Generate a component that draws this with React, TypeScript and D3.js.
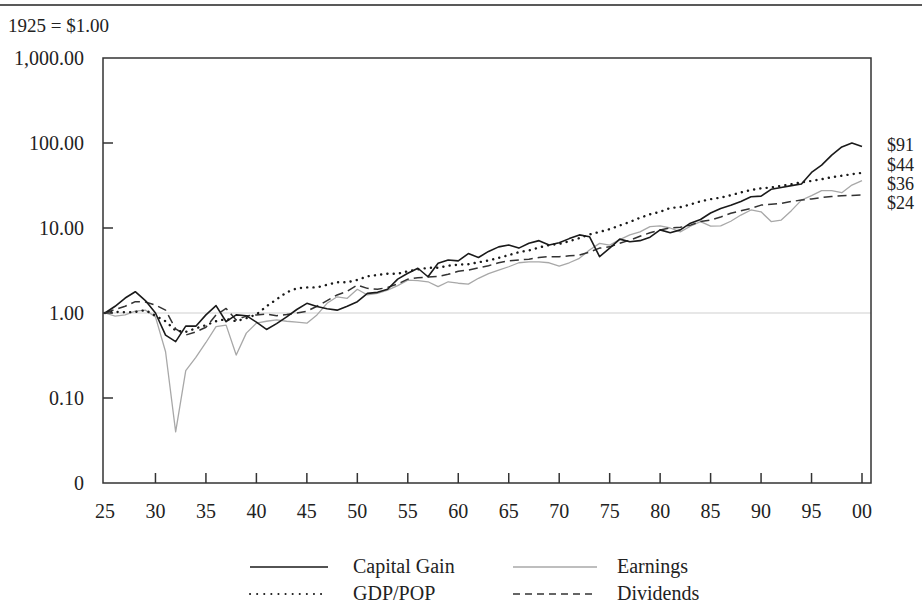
import React from "react";
import * as d3 from "d3";

const years: number[] = d3.range(1925, 2001);

const capitalGain: number[] = [
  1.0, 1.2, 1.5, 1.78, 1.4, 1.0, 0.55, 0.46, 0.7, 0.7,
  0.95, 1.22, 0.79, 0.95, 0.93, 0.78, 0.64, 0.75, 0.9, 1.1,
  1.3, 1.19, 1.12, 1.08, 1.2, 1.36, 1.7, 1.75, 1.9, 2.5,
  2.93, 3.36, 2.67, 3.85, 4.2, 4.1, 5.0, 4.5, 5.3, 6.0,
  6.3, 5.8, 6.6, 7.1, 6.3, 6.7, 7.5, 8.3, 7.9, 4.6,
  5.8, 7.4, 6.9, 7.1, 7.8, 9.5, 8.8, 9.5, 11.4, 12.6,
  15.0, 17.0, 18.5, 20.5, 23.3, 23.7, 28.5, 30.0, 31.5, 33.0,
  45.0, 55.0, 72.0, 90.0, 100.0, 91.0,
];

const earnings: number[] = [
  1.0, 0.92, 0.95, 1.05, 1.08, 0.9, 0.35, 0.04, 0.21, 0.3,
  0.45, 0.69, 0.72, 0.32, 0.58, 0.76, 0.8, 0.83, 0.8, 0.78,
  0.76, 0.95, 1.3, 1.55, 1.49, 1.9, 1.63, 1.7, 1.86, 2.1,
  2.44, 2.4, 2.33, 2.04, 2.33, 2.24, 2.19, 2.56, 2.9, 3.2,
  3.5, 3.9, 4.0, 4.0, 3.9, 3.57, 3.9, 4.4, 5.5, 6.6,
  6.3, 7.3, 8.3, 9.0, 10.4, 10.6, 10.0, 9.0, 10.5, 11.9,
  10.5, 10.6, 12.0, 14.2, 16.3, 15.5, 11.9, 12.4, 16.0, 21.3,
  24.0, 27.5, 27.5, 26.0, 32.0, 36.0,
];

const gdpPop: number[] = [
  1.0, 1.03, 1.02, 1.03, 1.08, 0.93, 0.8, 0.62, 0.6, 0.66,
  0.72, 0.8, 0.85, 0.8, 0.87, 0.96, 1.2, 1.45, 1.75, 1.95,
  2.0, 2.0, 2.15, 2.3, 2.3, 2.45, 2.7, 2.8, 2.9, 2.9,
  3.1, 3.25, 3.4, 3.4, 3.6, 3.7, 3.75, 3.95, 4.15, 4.45,
  4.8, 5.2, 5.45, 5.9, 6.3, 6.5, 7.0, 7.6, 8.4, 9.0,
  9.7, 10.7, 11.8, 13.2, 14.5, 15.5, 17.2, 17.6, 18.9, 20.6,
  21.8, 22.8, 24.3, 26.2, 28.0, 29.3, 30.0, 31.4, 32.7, 34.5,
  35.8, 37.5, 39.6, 41.2, 43.0, 44.5,
];

const dividends: number[] = [
  1.0, 1.1, 1.2, 1.36, 1.35, 1.24, 1.08, 0.65, 0.55, 0.6,
  0.68, 0.95, 1.13, 0.83, 0.92, 0.95, 0.97, 0.93, 0.96, 1.0,
  1.05, 1.2, 1.4, 1.63, 1.8, 2.13, 1.95, 1.9, 2.0, 2.2,
  2.5, 2.6, 2.65, 2.7, 2.85, 3.1, 3.2, 3.4, 3.6, 3.9,
  4.1, 4.2, 4.3, 4.5, 4.6, 4.6, 4.7, 4.8, 5.2, 5.8,
  6.0, 6.6, 7.2, 8.0, 8.8, 9.5, 10.0, 10.2, 10.8, 11.9,
  12.4, 13.5, 14.9, 16.0, 17.0, 18.6, 19.0, 19.5, 20.5, 21.3,
  22.0, 22.8, 23.5, 24.0, 24.2, 24.4,
];

const yTickValues: number[] = [1000, 100, 10, 1, 0.1, 0.01];
const yTickLabels: string[] = ["1,000.00", "100.00", "10.00", "1.00", "0.10", "0"];
const xTickValues: number[] = d3.range(1925, 2001, 5);
const endLabels: string[] = ["$91", "$44", "$36", "$24"];
const seriesNames: string[] = ["Capital Gain", "Earnings", "GDP/POP", "Dividends"];
const baseNote = "1925 = $1.00";

const FONT = "'Liberation Serif', 'Times New Roman', serif";

export default function App() {
  const W = 922;
  const H = 613;
  const frame = { left: 103, right: 871, top: 58, bottom: 483 };
  const x = d3.scaleLinear().domain([1925, 2000]).range([105, 862]);
  const y = d3.scaleLog().domain([0.01, 1000]).range([frame.bottom, frame.top]);

  const mk = (vals: number[]) =>
    d3
      .line<number>()
      .x((_, i) => x(years[i]))
      .y((v) => y(v))(vals) || "";

  const styles = [
    { stroke: "#1a1a1a", width: 1.6, dash: undefined as string | undefined, cap: "butt" },
    { stroke: "#a8a8a8", width: 1.3, dash: undefined as string | undefined, cap: "butt" },
    { stroke: "#1a1a1a", width: 2.4, dash: "0.1 6.2", cap: "round" },
    { stroke: "#333", width: 1.5, dash: "9 5", cap: "butt" },
  ];
  const data = [capitalGain, earnings, gdpPop, dividends];
  const drawOrder = [1, 3, 2, 0];

  const endY = [145, 165, 184, 203];
  const legendPos = [
    { x1: 250, x2: 328, tx: 353, ty: 573 },
    { x1: 513, x2: 597, tx: 617, ty: 573 },
    { x1: 250, x2: 328, tx: 353, ty: 600 },
    { x1: 513, x2: 597, tx: 617, ty: 600 },
  ];

  return (
    <svg
      width={W}
      height={H}
      style={{ position: "absolute", left: 0, top: 0, background: "#fff" }}
      fontFamily={FONT}
    >
      <line x1={0} x2={W} y1={5} y2={5} stroke="#222" strokeWidth={1.5} />
      <text x={8} y={32} fontSize={19} fill="#222">
        {baseNote}
      </text>

      {/* reference line at 1.00 */}
      <line
        x1={frame.left}
        x2={frame.right}
        y1={y(1)}
        y2={y(1)}
        stroke="#cfcfcf"
        strokeWidth={1.2}
      />

      {/* series */}
      {drawOrder.map((k) => (
        <path
          key={k}
          d={mk(data[k])}
          fill="none"
          stroke={styles[k].stroke}
          strokeWidth={styles[k].width}
          strokeDasharray={styles[k].dash}
          strokeLinecap={styles[k].cap as any}
          strokeLinejoin="round"
        />
      ))}

      {/* frame */}
      <rect
        x={frame.left}
        y={frame.top}
        width={frame.right - frame.left}
        height={frame.bottom - frame.top}
        fill="none"
        stroke="#333"
        strokeWidth={1.5}
      />

      {/* y ticks */}
      {yTickValues.map((v, i) => (
        <g key={v}>
          {i > 0 && i < yTickValues.length - 1 && (
            <line
              x1={frame.left}
              x2={frame.left + 10}
              y1={y(v)}
              y2={y(v)}
              stroke="#333"
              strokeWidth={1.5}
            />
          )}
          <text
            x={84}
            y={y(v) + 7}
            fontSize={20}
            textAnchor="end"
            fill="#222"
          >
            {yTickLabels[i]}
          </text>
        </g>
      ))}

      {/* x ticks */}
      {xTickValues.map((v) => (
        <g key={v}>
          {v > 1925 && (
            <line
              x1={x(v)}
              x2={x(v)}
              y1={frame.bottom}
              y2={frame.bottom - 10}
              stroke="#333"
              strokeWidth={1.5}
            />
          )}
          <text x={x(v)} y={518} fontSize={20} textAnchor="middle" fill="#222">
            {d3.format("02d")(v % 100)}
          </text>
        </g>
      ))}

      {/* end labels */}
      {endLabels.map((t, i) => (
        <text key={t} x={887} y={endY[i] + 6} fontSize={18} fill="#222">
          {t}
        </text>
      ))}

      {/* legend */}
      {seriesNames.map((n, i) => (
        <g key={n}>
          <line
            x1={legendPos[i].x1}
            x2={legendPos[i].x2}
            y1={legendPos[i].ty - 6}
            y2={legendPos[i].ty - 6}
            stroke={styles[i].stroke}
            strokeWidth={i === 2 ? 2 : styles[i].width}
            strokeDasharray={i === 2 ? "0.1 7" : i === 3 ? "7 5" : undefined}
            strokeLinecap={styles[i].cap as any}
          />
          <text x={legendPos[i].tx} y={legendPos[i].ty} fontSize={20} fill="#222">
            {n}
          </text>
        </g>
      ))}
    </svg>
  );
}
